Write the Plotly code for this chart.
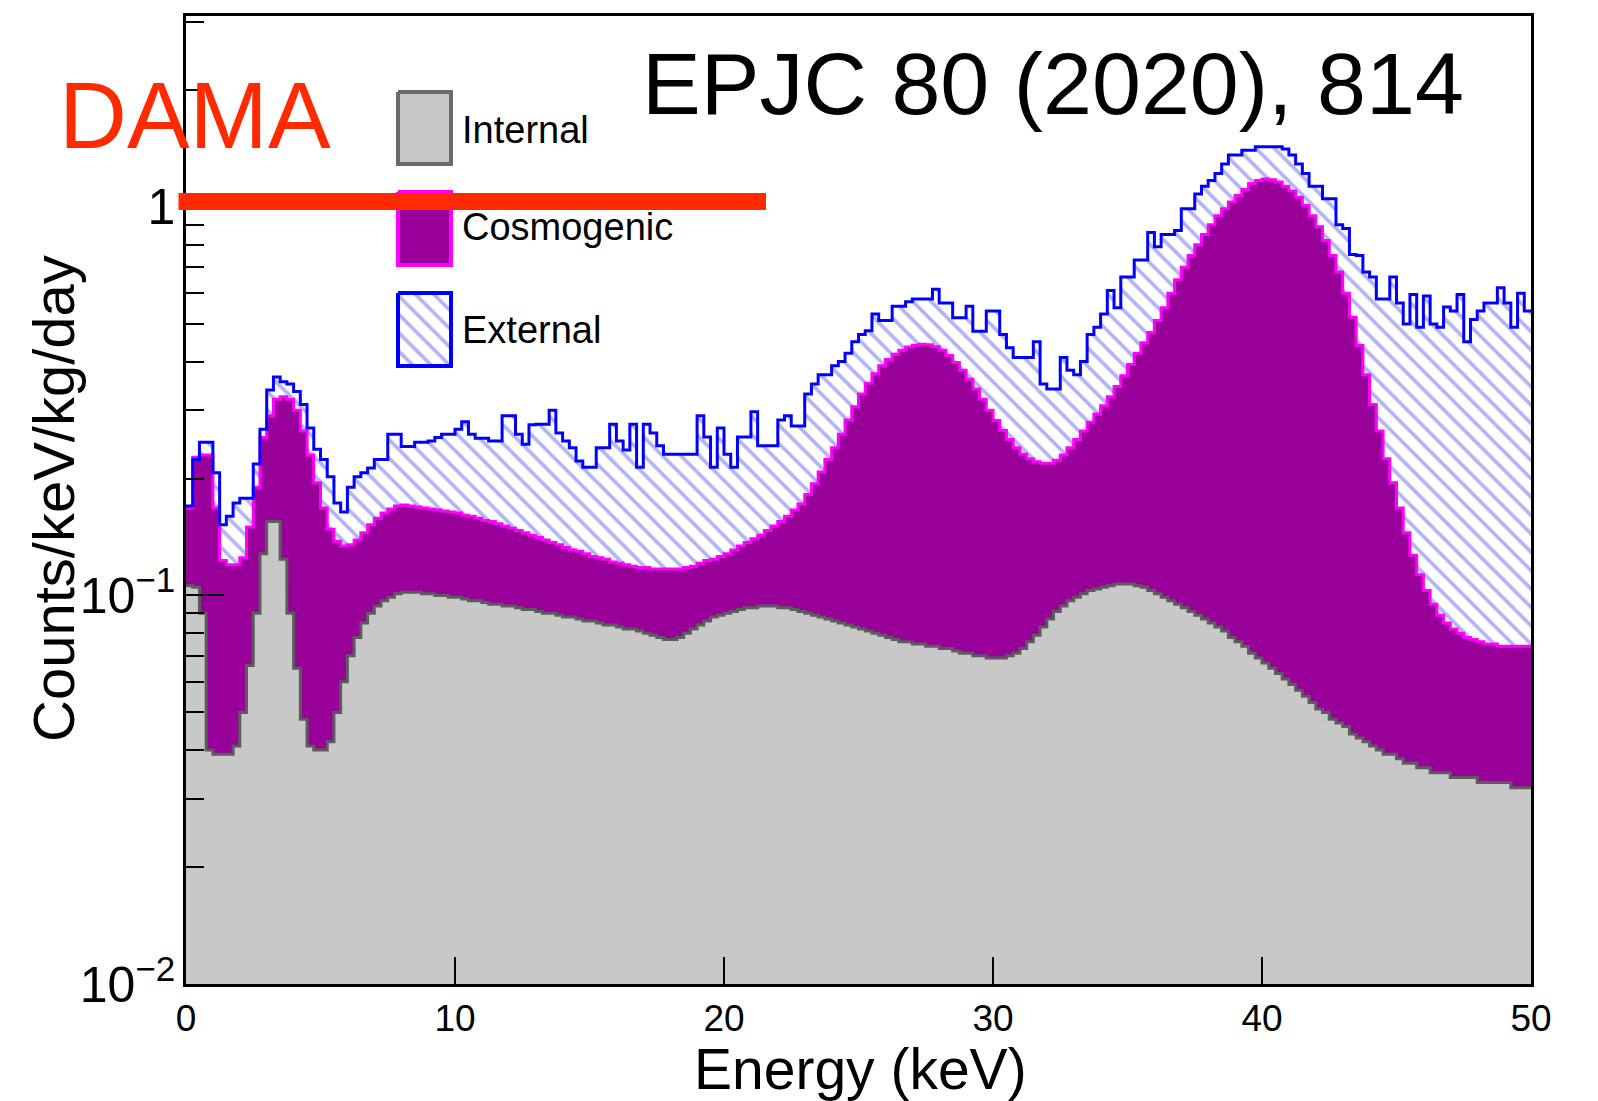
import numpy as np
import plotly.graph_objects as go

# Stacked background model (THStack levels), counts/keV/kg/day, 0.25 keV bins from 0 to 50 keV
bin_width = 0.25
energy_edges = np.round(np.arange(0.0, 50.0 + bin_width / 2, bin_width), 3)

# Level of the internal component
stack_internal = [
    0.106, 0.105, 0.090, 0.040,  0.039, 0.039, 0.039, 0.041,
    0.050, 0.066, 0.090, 0.128,  0.155, 0.155, 0.124, 0.090,
    0.065, 0.048, 0.041, 0.040,  0.040, 0.042, 0.050, 0.060,
    0.070, 0.078, 0.085, 0.090,  0.094, 0.097, 0.099, 0.101,
    0.102, 0.102, 0.102, 0.101,  0.101, 0.100, 0.100, 0.099,
    0.099, 0.098, 0.097, 0.097,  0.096, 0.095, 0.095, 0.094,
    0.094, 0.093, 0.092, 0.092,  0.091, 0.090, 0.090, 0.089,
    0.088, 0.088, 0.087, 0.086,  0.086, 0.085, 0.084, 0.084,
    0.083, 0.082, 0.082, 0.081,  0.080, 0.079, 0.078, 0.077,
    0.077, 0.078, 0.080, 0.082,  0.084, 0.086, 0.088, 0.089,
    0.090, 0.091, 0.092, 0.093,  0.093, 0.094, 0.094, 0.094,
    0.093, 0.093, 0.092, 0.091,  0.090, 0.089, 0.088, 0.087,
    0.086, 0.085, 0.084, 0.083,  0.082, 0.081, 0.080, 0.079,
    0.078, 0.077, 0.076, 0.076,  0.075, 0.075, 0.074, 0.074,
    0.073, 0.073, 0.072, 0.071,  0.071, 0.070, 0.070, 0.069,
    0.069, 0.069, 0.070, 0.071,  0.073, 0.076, 0.079, 0.083,
    0.087, 0.091, 0.094, 0.097,  0.099, 0.101, 0.103, 0.104,
    0.105, 0.106, 0.107, 0.107,  0.107, 0.106, 0.105, 0.103,
    0.101, 0.099, 0.097, 0.095,  0.093, 0.091, 0.089, 0.087,
    0.085, 0.083, 0.081, 0.078,  0.076, 0.074, 0.071, 0.069,
    0.067, 0.065, 0.063, 0.061,  0.059, 0.057, 0.055, 0.053,
    0.051, 0.050, 0.048, 0.047,  0.046, 0.044, 0.043, 0.042,
    0.041, 0.040, 0.039, 0.039,  0.038, 0.037, 0.037, 0.036,
    0.036, 0.035, 0.035, 0.035,  0.034, 0.034, 0.034, 0.034,
    0.033, 0.033, 0.033, 0.033,  0.033, 0.032, 0.032, 0.032,
]

# Level of internal + cosmogenic
stack_cosmogenic = [
    0.168, 0.227, 0.230, 0.230,  0.168, 0.123, 0.120, 0.120,
    0.125, 0.150, 0.190, 0.255,  0.290, 0.320, 0.325, 0.320,
    0.300, 0.265, 0.230, 0.195,  0.168, 0.148, 0.138, 0.134,
    0.135, 0.139, 0.145, 0.152,  0.158, 0.163, 0.167, 0.170,
    0.171, 0.170, 0.169, 0.168,  0.167, 0.166, 0.165, 0.164,
    0.163, 0.161, 0.160, 0.158,  0.156, 0.155, 0.153, 0.151,
    0.149, 0.147, 0.145, 0.143,  0.141, 0.139, 0.137, 0.135,
    0.133, 0.131, 0.130, 0.128,  0.126, 0.125, 0.124, 0.122,
    0.121, 0.120, 0.119, 0.118,  0.118, 0.117, 0.117, 0.117,
    0.117, 0.117, 0.118, 0.119,  0.121, 0.123, 0.124, 0.126,
    0.128, 0.131, 0.134, 0.137,  0.140, 0.143, 0.147, 0.151,
    0.155, 0.160, 0.166, 0.172,  0.182, 0.194, 0.208, 0.224,
    0.240, 0.260, 0.283, 0.306,  0.330, 0.352, 0.372, 0.390,
    0.405, 0.418, 0.428, 0.436,  0.441, 0.443, 0.442, 0.437,
    0.428, 0.415, 0.398, 0.380,  0.360, 0.340, 0.320, 0.300,
    0.282, 0.266, 0.252, 0.240,  0.231, 0.225, 0.221, 0.219,
    0.219, 0.223, 0.230, 0.240,  0.252, 0.265, 0.279, 0.293,
    0.308, 0.325, 0.345, 0.368,  0.393, 0.420, 0.447, 0.475,
    0.510, 0.550, 0.600, 0.650,  0.700, 0.750, 0.800, 0.850,
    0.900, 0.950, 0.990, 1.030,  1.070, 1.110, 1.150, 1.170,
    1.180, 1.175, 1.160, 1.130,  1.100, 1.060, 1.010, 0.950,
    0.890, 0.820, 0.750, 0.680,  0.600, 0.520, 0.440, 0.370,
    0.310, 0.265, 0.225, 0.195,  0.168, 0.145, 0.127, 0.113,
    0.103, 0.095, 0.089, 0.085,  0.082, 0.080, 0.078, 0.077,
    0.076, 0.075, 0.075, 0.074,  0.074, 0.074, 0.074, 0.074,
]

# Level of internal + cosmogenic + external (total)
stack_external = [
    0.170, 0.224, 0.248, 0.248,  0.207, 0.152, 0.160, 0.173,
    0.178, 0.178, 0.218, 0.268,  0.338, 0.365, 0.355, 0.350,
    0.335, 0.310, 0.270, 0.238,  0.224, 0.202, 0.173, 0.164,
    0.190, 0.202, 0.207, 0.213,  0.224, 0.224, 0.260, 0.260,
    0.242, 0.242, 0.248, 0.248,  0.250, 0.255, 0.260, 0.260,
    0.268, 0.280, 0.260, 0.254,  0.254, 0.250, 0.250, 0.290,
    0.290, 0.260, 0.245, 0.275,  0.276, 0.276, 0.300, 0.262,
    0.250, 0.240, 0.222, 0.214,  0.214, 0.240, 0.240, 0.276,
    0.250, 0.237, 0.276, 0.214,  0.276, 0.262, 0.243, 0.231,
    0.231, 0.231, 0.231, 0.231,  0.290, 0.256, 0.214, 0.270,
    0.231, 0.214, 0.256, 0.256,  0.297, 0.243, 0.243, 0.243,
    0.283, 0.290, 0.273, 0.273,  0.330, 0.350, 0.370, 0.370,
    0.390, 0.400, 0.420, 0.450,  0.470, 0.480, 0.530, 0.510,
    0.510, 0.555, 0.555, 0.570,  0.580, 0.580, 0.580, 0.614,
    0.566, 0.566, 0.519, 0.519,  0.555, 0.479, 0.479, 0.540,
    0.540, 0.470, 0.434, 0.410,  0.410, 0.410, 0.450, 0.350,
    0.340, 0.340, 0.410, 0.380,  0.370, 0.400, 0.470, 0.490,
    0.530, 0.610, 0.550, 0.660,  0.660, 0.730, 0.730, 0.860,
    0.790, 0.850, 0.850, 0.870,  0.990, 0.990, 1.080, 1.130,
    1.170, 1.220, 1.290, 1.360,  1.360, 1.400, 1.400, 1.430,
    1.430, 1.430, 1.430, 1.410,  1.360, 1.290, 1.220, 1.130,
    1.130, 1.050, 1.050, 0.900,  0.880, 0.755, 0.750, 0.680,
    0.660, 0.580, 0.580, 0.660,  0.566, 0.500, 0.595, 0.490,
    0.590, 0.500, 0.490, 0.553,  0.540, 0.595, 0.450, 0.513,
    0.540, 0.566, 0.566, 0.620,  0.566, 0.490, 0.600, 0.540,
]

component_names = ["Internal", "Cosmogenic", "External"]
x_tick_values = [0, 10, 20, 30, 40, 50]

FONT = "Liberation Sans, Arial, Helvetica, sans-serif"
GRAY_FILL, GRAY_LINE = "#c8c8c8", "#5c5c5c"
PURPLE_FILL, MAGENTA_LINE = "#990099", "#ff00ff"
BLUE_LINE, HATCH = "#0000ff", "#6868ee"
RED = "#ff2a00"
hatch = dict(shape="\\", fgcolor=HATCH, bgcolor="white", size=13, solidity=0.28)


def step_values(levels):
    # repeat the last bin so the hv step closes at the upper edge
    return list(levels) + [levels[-1]]


fig = go.Figure()
fig.add_trace(go.Scatter(
    x=energy_edges, y=step_values(stack_internal), mode="lines",
    line=dict(shape="hv", color=GRAY_LINE, width=3),
    fill="tozeroy", fillcolor=GRAY_FILL, name=component_names[0],
    showlegend=False, hoverinfo="skip"))
fig.add_trace(go.Scatter(
    x=energy_edges, y=step_values(stack_cosmogenic), mode="lines",
    line=dict(shape="hv", color=MAGENTA_LINE, width=3),
    fill="tonexty", fillcolor=PURPLE_FILL, name=component_names[1],
    showlegend=False, hoverinfo="skip"))
fig.add_trace(go.Scatter(
    x=energy_edges, y=step_values(stack_external), mode="lines",
    line=dict(shape="hv", color=BLUE_LINE, width=3),
    fill="tonexty", fillcolor="white", fillpattern=hatch, name=component_names[2],
    showlegend=False, hoverinfo="skip"))

# Legend swatches drawn on a small helper subplot laid out in pixel units
swatches = [
    (92, 164, dict(fillcolor=GRAY_FILL, line=dict(color="#6a6a6a", width=4))),
    (192, 265, dict(fillcolor=PURPLE_FILL, line=dict(color=MAGENTA_LINE, width=4))),
    (293, 366, dict(fillcolor="white", fillpattern=hatch, line=dict(color=BLUE_LINE, width=4))),
]
for top, bottom, style in swatches:
    fig.add_trace(go.Scatter(
        x=[398, 451, 451, 398, 398], y=[top, top, bottom, bottom, top],
        mode="lines", fill="toself", xaxis="x2", yaxis="y2",
        showlegend=False, hoverinfo="skip", **style))

W, H = 1598, 1101
ML, MR, MT, MB = 186, 67, 16, 117
PW, PH = W - ML - MR, H - MT - MB


def px(xp):
    return (xp - ML) / PW


def py(yp):
    return (H - MB - yp) / PH


fig.update_layout(
    width=W, height=H, autosize=False,
    margin=dict(l=ML, r=MR, t=MT, b=MB, pad=0),
    paper_bgcolor="white", plot_bgcolor="white",
    font=dict(family=FONT, color="black"),
    xaxis=dict(
        range=[0, 50], tickvals=x_tick_values, ticks="inside", ticklen=27,
        tickwidth=2, tickcolor="black", showline=True, linecolor="black",
        linewidth=2.5, mirror=True, showgrid=False, zeroline=False,
        tickfont=dict(family=FONT, size=37, color="black")),
    yaxis=dict(
        type="log", range=[-2, 0.4916], dtick=1, exponentformat="power",
        ticks="inside", ticklen=38, tickwidth=2, tickcolor="black",
        showline=True, linecolor="black", linewidth=2.5, mirror=True,
        showgrid=False, zeroline=False,
        minor=dict(ticks="inside", ticklen=18, tickwidth=2, tickcolor="black",
                   dtick="D1", showgrid=False),
        tickfont=dict(family=FONT, size=40, color="black")),
    xaxis2=dict(domain=[px(390), px(460)], range=[390, 460], visible=False,
                anchor="y2", fixedrange=True),
    yaxis2=dict(domain=[py(375), py(85)], range=[375, 85], visible=False,
                anchor="x2", fixedrange=True),
)

annotations = [
    dict(text="DAMA", x=px(57), y=py(115), xanchor="left", yanchor="middle",
         font=dict(size=94, color=RED)),
    dict(text="EPJC 80 (2020), 814", x=px(1466), y=py(83), xanchor="right",
         yanchor="middle", font=dict(size=88, color="black")),
    dict(text=component_names[0], x=px(460), y=py(130), xanchor="left",
         yanchor="middle", font=dict(size=38, color="black")),
    dict(text=component_names[1], x=px(460), y=py(227), xanchor="left",
         yanchor="middle", font=dict(size=38, color="black")),
    dict(text=component_names[2], x=px(460), y=py(330), xanchor="left",
         yanchor="middle", font=dict(size=38, color="black")),
    dict(text="Counts/keV/kg/day", x=px(53), y=py(499), xanchor="center",
         yanchor="middle", textangle=-90, font=dict(size=58, color="black")),
    dict(text="Energy (keV)", x=px(860), y=py(1069), xanchor="center",
         yanchor="middle", font=dict(size=57, color="black")),
]
for a in annotations:
    a.update(xref="paper", yref="paper", showarrow=False)
fig.update_layout(annotations=annotations)

# Red bar across the top of the frame
fig.add_shape(type="rect", xref="paper", yref="paper",
              x0=px(178.5), x1=px(766), y0=py(210), y1=py(193),
              fillcolor=RED, line=dict(width=0), layer="above")

fig.write_html("out.html")
